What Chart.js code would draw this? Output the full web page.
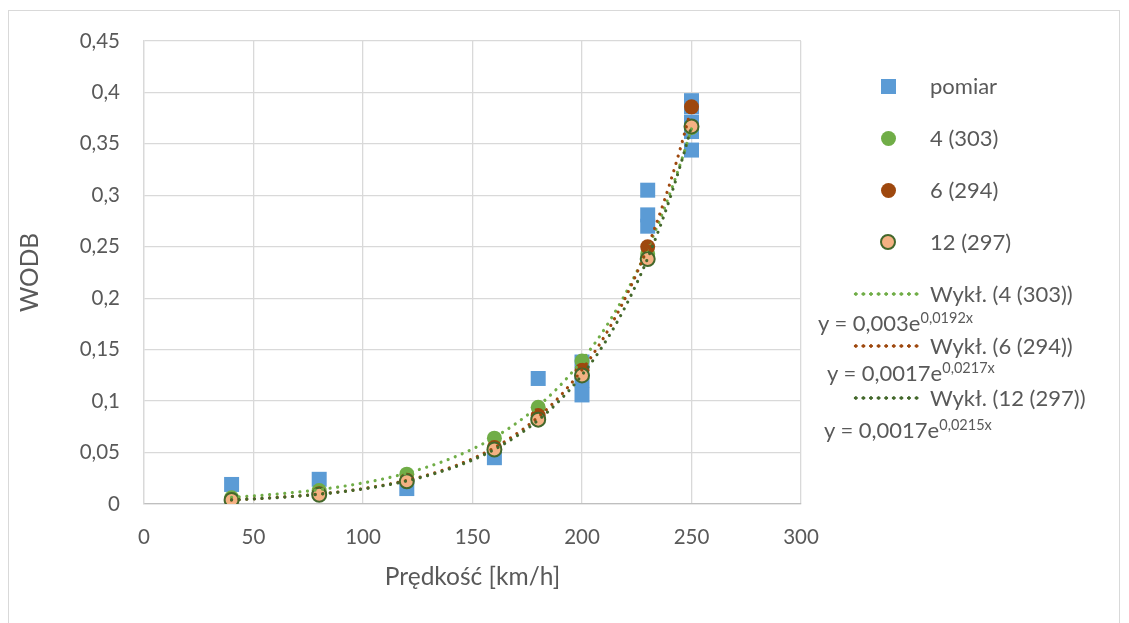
<!DOCTYPE html>
<html lang="pl">
<head>
<meta charset="utf-8">
<title>WODB</title>
<script src="https://cdn.jsdelivr.net/npm/chart.js@4.4.1/dist/chart.umd.min.js"></script>
<style>
  html, body { margin: 0; padding: 0; background: #ffffff; }
  #wrap { position: relative; width: 1129px; height: 623px; overflow: hidden; font-family: Lato, "Open Sans", sans-serif; color: #595959; }
  #frame { position: absolute; left: 8px; top: 10px; width: 1112px; height: 640px; border: 1px solid #d9d9d9; box-sizing: border-box; }
  #chart { position: absolute; left: 0; top: 0; }
  .lg { position: absolute; font-size: 22px; line-height: 24px; white-space: nowrap; }
  .mk { position: absolute; box-sizing: border-box; }
  .dots { position: absolute; height: 4px; }
  .eq sup { font-size: 14.5px; vertical-align: 0; position: relative; top: -8px; }
</style>
</head>
<body>
<div id="wrap">
  <div id="frame"></div>
  <canvas id="chart" width="1129" height="623"></canvas>
  <div id="legend"></div>
</div>
<script>
// Measured speeds and WODB values
const pomiarX = [40, 80, 120, 160, 180, 200, 200, 200, 230, 230, 230, 250, 250, 250, 250, 250];
const pomiarY = [0.019, 0.024, 0.015, 0.045, 0.122, 0.138, 0.120, 0.106, 0.305, 0.281, 0.270, 0.392, 0.386, 0.371, 0.362, 0.344];

// Model results at the same speeds
const speeds = [40, 80, 120, 160, 180, 200, 230, 250];
const model4 = [0.006, 0.013, 0.029, 0.064, 0.094, 0.139, 0.243, 0.366];
const model6 = [0.004, 0.010, 0.023, 0.055, 0.086, 0.130, 0.250, 0.386];
const model12 = [0.004, 0.009, 0.022, 0.053, 0.082, 0.125, 0.238, 0.367];

// Exponential trendline coefficients: y = a * e^(b x)
const trendA = [0.003, 0.0017, 0.0017];
const trendB = [0.0192, 0.0217, 0.0215];
const trendNames = ['Wykł. (4 (303))', 'Wykł. (6 (294))', 'Wykł. (12 (297))'];

const seriesNames = ['pomiar', '4 (303)', '6 (294)', '12 (297)'];
const xTickLabels = ['0', '50', '100', '150', '200', '250', '300'];
const yTickLabels = ['0', '0,05', '0,1', '0,15', '0,2', '0,25', '0,3', '0,35', '0,4', '0,45'];

const C = {
  blue: '#5b9bd5', green: '#70ad47', brown: '#9e480e',
  peach: '#f4b183', dark: '#43682b', grid: '#d9d9d9', text: '#595959'
};
const trendColors = [C.green, C.brown, C.dark];

const pts = (xs, ys) => xs.map((x, i) => ({ x, y: ys[i] }));

// Sample each fitted curve along the measured speed range
function trendPoints(k) {
  const out = [];
  for (let x = speeds[0]; x <= speeds[speeds.length - 1]; x += 2) {
    out.push({ x, y: trendA[k] * Math.exp(trendB[k] * x) });
  }
  return out;
}

const trendSets = trendNames.map((name, k) => ({
  label: name, data: trendPoints(k), showLine: true, pointRadius: 0,
  borderColor: trendColors[k], borderWidth: 3.2, borderDash: [0.01, 7.6],
  borderCapStyle: 'round', fill: false, order: 3 - k
}));

const font = 'Lato';

new Chart(document.getElementById('chart'), {
  type: 'scatter',
  data: {
    datasets: [
      ...trendSets,
      { label: seriesNames[3], data: pts(speeds, model12), pointStyle: 'circle', pointRadius: 7,
        backgroundColor: C.peach, borderColor: C.dark, borderWidth: 2, order: 4 },
      { label: seriesNames[2], data: pts(speeds, model6), pointStyle: 'circle', pointRadius: 7.5,
        backgroundColor: C.brown, borderWidth: 0, order: 5 },
      { label: seriesNames[1], data: pts(speeds, model4), pointStyle: 'circle', pointRadius: 7.5,
        backgroundColor: C.green, borderWidth: 0, order: 6 },
      { label: seriesNames[0], data: pts(pomiarX, pomiarY), pointStyle: 'rect', pointRadius: 10.6,
        backgroundColor: C.blue, borderWidth: 0, order: 7 }
    ]
  },
  options: {
    responsive: false, animation: false,
    layout: { padding: { left: 10, right: 328, top: 41, bottom: 20 } },
    plugins: { legend: { display: false }, tooltip: { enabled: false } },
    scales: {
      x: {
        type: 'linear', min: 0, max: 300,
        afterFit: s => { s.height = 99; },
        ticks: { stepSize: 50, padding: 21, color: C.text, font: { family: font, size: 20.5 },
          callback: (v, i) => xTickLabels[i] },
        grid: { color: C.grid, lineWidth: 1.3, drawTicks: false },
        border: { color: '#bfbfbf', width: 1.3 },
        title: { display: true, text: 'Prędkość [km/h]', color: C.text,
          font: { family: font, size: 24.5 }, padding: { top: 0, bottom: 11 } }
      },
      y: {
        type: 'linear', min: 0, max: 0.45,
        afterFit: s => { s.width = 134; },
        ticks: { stepSize: 0.05, padding: 24, color: C.text, font: { family: font, size: 20.5 },
          callback: (v, i) => yTickLabels[i] },
        grid: { color: C.grid, lineWidth: 1.3, drawTicks: false },
        border: { color: C.grid, width: 1.3 },
        title: { display: true, text: 'WODB', color: C.text,
          font: { family: font, size: 24.5 }, padding: { top: 5, bottom: 0 } }
      }
    }
  }
});

// Legend on the right: series markers, trendline samples and their equations
const legend = document.getElementById('legend');
function add(html, cls, css) {
  const el = document.createElement('div');
  el.className = cls; el.innerHTML = html; Object.assign(el.style, css); legend.appendChild(el);
  return el;
}
const rowY = [86, 138, 190, 242];
const markerCss = [
  { width: '15px', height: '15px', background: C.blue },
  { width: '15px', height: '15px', background: C.green, borderRadius: '50%' },
  { width: '15px', height: '15px', background: C.brown, borderRadius: '50%' },
  { width: '16px', height: '16px', background: C.peach, borderRadius: '50%', border: '2px solid ' + C.dark }
];
seriesNames.forEach((name, i) => {
  const m = markerCss[i];
  const w = parseFloat(m.width);
  add('', 'mk', Object.assign({ left: (888 - w / 2) + 'px', top: (rowY[i] - w / 2) + 'px' }, m));
  add(name, 'lg', { left: '930px', top: (rowY[i] - 12) + 'px' });
});
const trendY = [294, 346, 398];
const eqY = [323, 373, 430];
const eqX = [818, 827, 824];
const fmt = v => String(v).replace('.', ',');
trendNames.forEach((name, k) => {
  add('', 'dots', { left: '852px', top: (trendY[k] - 2) + 'px', width: '70px',
    backgroundImage: `radial-gradient(circle, ${trendColors[k]} 1.5px, transparent 1.9px)`,
    backgroundSize: '7.6px 4px' });
  add(name, 'lg', { left: '930px', top: (trendY[k] - 12) + 'px' });
  add(`y = ${fmt(trendA[k])}e<sup>${fmt(trendB[k])}x</sup>`, 'lg eq',
    { left: eqX[k] + 'px', top: (eqY[k] - 12) + 'px' });
});
</script>
</body>
</html>
